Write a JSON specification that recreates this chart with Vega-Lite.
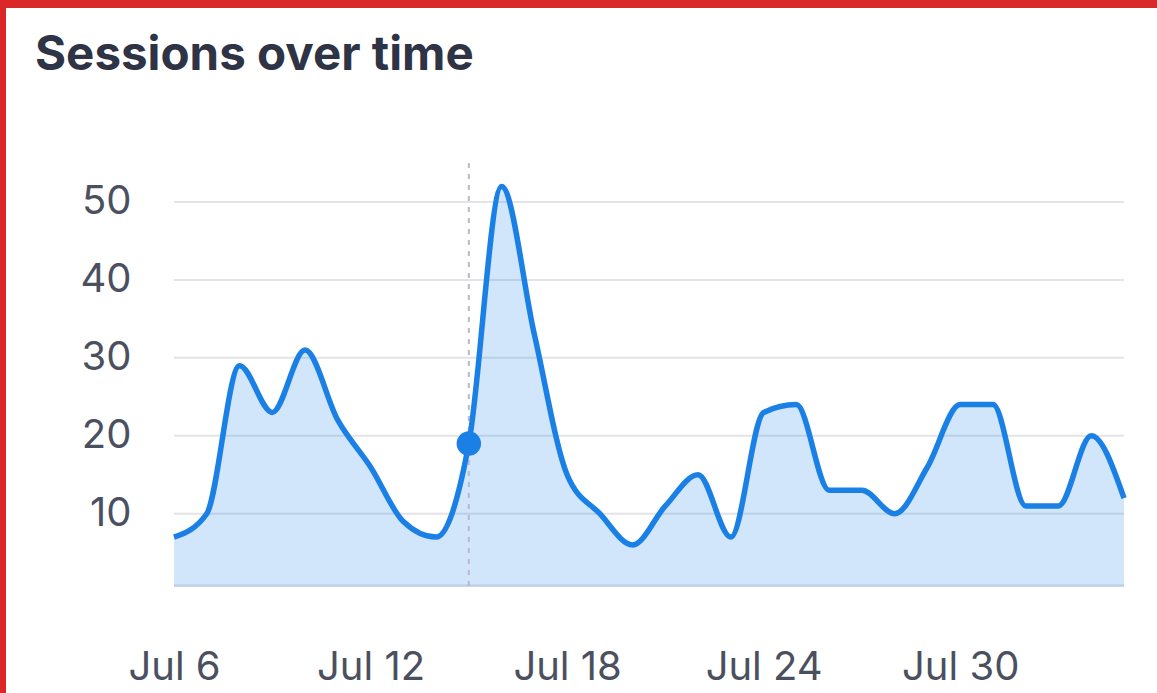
{
  "$schema": "https://vega.github.io/schema/vega-lite/v6.json",
  "width": 1151,
  "height": 685,
  "autosize": {"type": "none"},
  "padding": {"left": 6, "top": 8, "right": 0, "bottom": 0},
  "background": "#da2828",
  "config": {"view": {"stroke": null, "fill": "white"}},
  "title": {
    "text": "Sessions over time",
    "anchor": "start",
    "frame": "group",
    "offset": 0,
    "dx": 29,
    "dy": 71,
    "font": "Inter",
    "fontSize": 47.5,
    "fontWeight": 700,
    "color": "#2e3345"
  },
  "data": {
    "values": [
      {"date": "2024-07-06", "sessions": 7},
      {"date": "2024-07-07", "sessions": 10},
      {"date": "2024-07-08", "sessions": 29},
      {"date": "2024-07-09", "sessions": 23},
      {"date": "2024-07-10", "sessions": 31},
      {"date": "2024-07-11", "sessions": 22},
      {"date": "2024-07-12", "sessions": 16},
      {"date": "2024-07-13", "sessions": 9},
      {"date": "2024-07-14", "sessions": 7},
      {"date": "2024-07-15", "sessions": 19},
      {"date": "2024-07-16", "sessions": 52},
      {"date": "2024-07-17", "sessions": 33},
      {"date": "2024-07-18", "sessions": 15},
      {"date": "2024-07-19", "sessions": 10},
      {"date": "2024-07-20", "sessions": 6},
      {"date": "2024-07-21", "sessions": 11},
      {"date": "2024-07-22", "sessions": 15},
      {"date": "2024-07-23", "sessions": 7},
      {"date": "2024-07-24", "sessions": 23},
      {"date": "2024-07-25", "sessions": 24},
      {"date": "2024-07-26", "sessions": 13},
      {"date": "2024-07-27", "sessions": 13},
      {"date": "2024-07-28", "sessions": 10},
      {"date": "2024-07-29", "sessions": 16},
      {"date": "2024-07-30", "sessions": 24},
      {"date": "2024-07-31", "sessions": 24},
      {"date": "2024-08-01", "sessions": 11},
      {"date": "2024-08-02", "sessions": 11},
      {"date": "2024-08-03", "sessions": 20},
      {"date": "2024-08-04", "sessions": 12}
    ]
  },
  "encoding": {
    "x": {
      "field": "date",
      "type": "temporal",
      "scale": {"type": "utc", "range": [168, 1118]},
      "axis": {
        "title": null,
        "format": "%b %-d",
        "values": [
          {"year": 2024, "month": 7, "date": 6, "utc": true},
          {"year": 2024, "month": 7, "date": 12, "utc": true},
          {"year": 2024, "month": 7, "date": 18, "utc": true},
          {"year": 2024, "month": 7, "date": 24, "utc": true},
          {"year": 2024, "month": 7, "date": 30, "utc": true}
        ],
        "grid": false,
        "ticks": false,
        "domain": false,
        "offset": -106,
        "labelPadding": 60,
        "labelFlush": false,
        "labelFont": "Inter",
        "labelFontSize": 40,
        "labelColor": "#4b5060"
      }
    },
    "y": {
      "field": "sessions",
      "type": "quantitative",
      "scale": {"domain": [0.6, 55], "nice": false, "zero": false, "range": [579, 155]},
      "axis": {
        "title": null,
        "values": [10, 20, 30, 40, 50],
        "grid": false,
        "ticks": false,
        "domain": false,
        "offset": -125,
        "labelPadding": 0,
        "labelFont": "Inter",
        "labelFontSize": 40,
        "labelColor": "#4b5060"
      }
    }
  },
  "layer": [
    {"mark": {"type": "line", "color": "#e4e4e6", "strokeWidth": 2}, "encoding": {"y": {"datum": 0.8}}},
    {"mark": {"type": "line", "color": "#e4e4e6", "strokeWidth": 2}, "encoding": {"y": {"datum": 10}}},
    {"mark": {"type": "line", "color": "#e4e4e6", "strokeWidth": 2}, "encoding": {"y": {"datum": 20}}},
    {"mark": {"type": "line", "color": "#e4e4e6", "strokeWidth": 2}, "encoding": {"y": {"datum": 30}}},
    {"mark": {"type": "line", "color": "#e4e4e6", "strokeWidth": 2}, "encoding": {"y": {"datum": 40}}},
    {"mark": {"type": "line", "color": "#e4e4e6", "strokeWidth": 2}, "encoding": {"y": {"datum": 50}}},
    {
      "mark": {"type": "area", "interpolate": "monotone", "color": "#1b80e6", "opacity": 0.2},
      "encoding": {"y2": {"datum": 0.6}}
    },
    {
      "transform": [{"filter": "utcdate(datum.date) == 15 && utcmonth(datum.date) == 6"}],
      "mark": {"type": "rule", "color": "#b9b9c9", "strokeWidth": 2, "strokeDash": [5, 6]},
      "encoding": {"y": {"datum": 55}, "y2": {"datum": 0.6}}
    },
    {
      "mark": {"type": "line", "interpolate": "monotone", "color": "#1b80e6", "strokeWidth": 5.5},
      "encoding": {}
    },
    {
      "transform": [{"filter": "utcdate(datum.date) == 15 && utcmonth(datum.date) == 6"}],
      "mark": {"type": "point", "filled": true, "color": "#1b80e6", "opacity": 1, "size": 600},
      "encoding": {}
    }
  ]
}
